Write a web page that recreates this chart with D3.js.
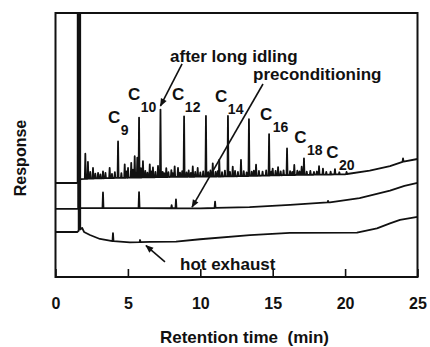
<!DOCTYPE html>
<html><head><meta charset="utf-8">
<script src="https://cdn.jsdelivr.net/npm/d3@7"></script>
<style>body{margin:0;background:#fff}svg{display:block}</style>
</head><body><svg id="c" width="430" height="347"></svg>
<script>
// ---------- data (retention time in min, response in arbitrary units 0-100) ----------
const xTicks = [0, 5, 10, 15, 20, 25];
const xTitle = "Retention time  (min)";
const yTitle = "Response";

// "after long idling" trace
const idleBaseT = [0, 1.5, 1.75, 2.5, 4, 8, 12, 16, 20, 21.7, 23.1, 24.0, 25];
const idleBaseV = [35.6, 35.6, 37.1, 37.3, 37.5, 37.9, 38.1, 38.6, 38.9, 40.3, 42.0, 43.7, 44.7];
const idleSpike = [1.53, 1.65];
const alkaneT = [4.32, 5.77, 7.25, 8.88, 10.39, 11.91, 13.36, 14.75, 15.99, 17.16, 18.2, 19.3];
const alkaneH = [13.8, 22.7, 25.6, 22.9, 23.0, 22.9, 21.5, 15.7, 10.1, 6.25, 3.2, 2.0];
const idleMinorT = [2.06, 2.24, 2.59, 2.94, 3.28, 3.74, 4.78, 5.01, 5.23, 5.47, 5.65, 6.04, 6.51, 6.73, 7.08, 7.65, 8.23, 8.46, 9.48, 9.82, 10.86, 11.31, 12.24, 12.81, 13.85, 15.0, 15.37, 16.49, 17.0, 18.47, 24.0,
  2.4, 2.75, 3.1, 3.45, 3.9, 4.1, 4.55, 4.9, 5.35, 5.9, 6.2, 6.35, 6.62, 6.9, 7.4, 7.5, 7.8, 8.0, 8.1, 8.6, 8.75, 9.05, 9.2, 9.35, 9.65, 10.0, 10.2, 10.55, 10.7, 11.05, 11.2, 11.5, 11.7, 12.05, 12.4, 12.6, 13.0, 13.2, 13.55, 13.7, 14.05, 14.3, 14.55, 14.9, 15.2, 15.55, 15.75, 16.2, 16.35, 16.7, 16.85, 17.35, 17.6, 17.85, 18.05, 18.7, 19.0, 19.6, 20.1];
const idleMinorH = [9.5, 6.4, 4.0, 2.1, 2.6, 3.9, 5.1, 3.7, 5.6, 8.1, 7.5, 6.2, 4.9, 3.7, 4.3, 3.4, 4.0, 3.4, 3.9, 3.3, 5.0, 6.3, 3.7, 6.2, 4.2, 2.6, 3.1, 3.8, 3.1, 2.3, 1.2,
  2.5, 1.8, 1.5, 2.0, 1.6, 2.2, 1.8, 2.4, 3.0, 3.5, 2.5, 1.8, 2.2, 2.0, 2.0, 1.5, 1.8, 2.6, 1.4, 1.6, 2.2, 1.7, 2.4, 1.5, 1.8, 1.6, 2.0, 1.7, 2.3, 1.8, 2.0, 1.6, 2.2, 1.7, 2.0, 1.6, 1.9, 1.4, 1.6, 2.0, 1.8, 1.5, 2.0, 1.4, 1.7, 1.5, 1.8, 1.5, 1.2, 1.6, 1.3, 1.2, 1.5, 1.1, 1.2, 1.0, 1.1, 0.8, 0.8];

// "preconditioning" trace
const precBaseT = [0, 1.5, 1.78, 5, 10, 13.4, 16.2, 18.95, 21.0, 23.1, 24.1, 25];
const precBaseV = [25.8, 25.8, 26.1, 26.1, 26.0, 26.5, 27.3, 28.3, 29.9, 32.7, 34.5, 35.7];
const precSpike = [1.57, 1.69];
const precPeakT = [3.28, 5.77, 8.02, 8.32, 11.02, 18.82];
const precPeakH = [5.9, 6.1, 1.2, 3.4, 2.4, 0.6];

// "hot exhaust" trace
const hotBaseT = [0, 1.5, 1.84, 1.97, 2.38, 3.07, 3.97, 5.14, 6.53, 8.32, 9.98, 13.43, 16.19, 20.82, 22.2, 23.1, 23.79, 25];
const hotBaseV = [17.05, 17.05, 18.6, 17.05, 15.9, 14.4, 13.6, 13.1, 13.3, 13.4, 14.3, 15.9, 16.7, 16.8, 18.45, 20.3, 21.6, 22.8];
const hotSpike = [1.60, 1.71];
const hotPeakT = [3.97, 5.84];
const hotPeakH = [3.0, 0.8];

// annotations
const noteText = ["after long idling", "preconditioning", "hot exhaust"];
const noteT = [7.91, 13.64, 8.6];
const noteV = [81.4, 74.6, 2.65];
const arrowFromT = [8.74, 14.33, 7.56];
const arrowFromV = [80.7, 73.1, 5.7];
const arrowToT = [7.25, 9.43, 6.25];
const arrowToV = [64.8, 26.5, 11.9];
const cNums = ["9", "10", "12", "14", "16", "18", "20"];
const cT = [3.63, 5.01, 8.05, 11.02, 14.12, 16.49, 18.70];
const cV = [58.3, 67.0, 67.0, 66.3, 59.5, 50.8, 45.1];

// ---------- drawing ----------
const svg = d3.select("#c");
const FONT = "'Liberation Sans', Arial, Helvetica, sans-serif";
const L = 55.5, R = 417.5, T = 13, B = 277;
const x = d3.scaleLinear().domain([0, 25]).range([L, R]);
const y = d3.scaleLinear().domain([0, 100]).range([B, T]);

const defs = svg.append("defs");
defs.append("clipPath").attr("id", "plot")
  .append("rect").attr("x", L).attr("y", T).attr("width", R - L).attr("height", B - T);
defs.append("marker").attr("id", "ah").attr("markerUnits", "userSpaceOnUse")
  .attr("viewBox", "0 0 10 10").attr("refX", 9).attr("refY", 5)
  .attr("markerWidth", 9).attr("markerHeight", 8).attr("orient", "auto")
  .append("path").attr("d", "M0,1 L10,5 L0,9 Z").attr("fill", "#111");

function buildTrace(baseT, baseV, peakT, peakH, spike) {
  const base = d3.scaleLinear().domain(baseT).range(baseV);
  const w = 0.035;
  const busy = [];
  peakT.forEach(t => busy.push([t - w * 1.5, t + w * 1.5]));
  busy.push([spike[0] - 0.02, spike[1] + 0.02]);
  let pts = [];
  baseT.forEach((t, i) => {
    if (!busy.some(b => t > b[0] && t < b[1])) pts.push([t, baseV[i]]);
  });
  peakT.forEach((t, i) => {
    pts.push([t - w, base(t - w)], [t, base(t) + peakH[i]], [t + w, base(t + w)]);
  });
  pts.push([spike[0], base(spike[0])], [spike[0] + 0.004, 140], [spike[1] - 0.004, 140], [spike[1], base(spike[1])]);
  pts.sort((a, b) => a[0] - b[0]);
  return pts;
}

const line = d3.line().x(d => x(d[0])).y(d => y(d[1]));
const gTr = svg.append("g").attr("clip-path", "url(#plot)");
const traces = [
  buildTrace(idleBaseT, idleBaseV, alkaneT.concat(idleMinorT), alkaneH.concat(idleMinorH), idleSpike),
  buildTrace(precBaseT, precBaseV, precPeakT, precPeakH, precSpike),
  buildTrace(hotBaseT, hotBaseV, hotPeakT, hotPeakH, hotSpike)
];
gTr.selectAll("path").data(traces).join("path")
  .attr("d", line).attr("fill", "none").attr("stroke", "#111")
  .attr("stroke-width", 1.8).attr("stroke-linejoin", "round");

// frame
svg.append("rect").attr("x", L).attr("y", T).attr("width", R - L).attr("height", B - T)
  .attr("fill", "none").attr("stroke", "#111").attr("stroke-width", 2);

// x axis
const ax = svg.append("g").attr("transform", `translate(0,${B})`)
  .call(d3.axisBottom(x).tickValues(xTicks).tickFormat(d3.format("d"))
    .tickSizeInner(-8).tickSizeOuter(0).tickPadding(21));
ax.select(".domain").remove();
ax.selectAll(".tick line").attr("stroke", "#111").attr("stroke-width", 1.6);
ax.selectAll(".tick text").attr("font-family", FONT).attr("font-size", 16)
  .attr("font-weight", "bold").attr("fill", "#111");

svg.append("text").attr("x", (L + R) / 2 + 8).attr("y", 343).attr("text-anchor", "middle")
  .style("white-space", "pre")
  .attr("font-family", FONT).attr("font-size", 17).attr("font-weight", "bold").attr("fill", "#111")
  .text(xTitle);
svg.append("text").attr("transform", "translate(26,158) rotate(-90)").attr("text-anchor", "middle")
  .attr("font-family", FONT).attr("font-size", 16).attr("font-weight", "bold").attr("fill", "#111")
  .text(yTitle);

// annotations
noteText.forEach((s, i) => {
  svg.append("text").attr("x", x(noteT[i])).attr("y", y(noteV[i]))
    .attr("font-family", FONT).attr("font-size", 17).attr("font-weight", "bold").attr("fill", "#111")
    .text(s);
  svg.append("line").attr("x1", x(arrowFromT[i])).attr("y1", y(arrowFromV[i]))
    .attr("x2", x(arrowToT[i])).attr("y2", y(arrowToV[i]))
    .attr("stroke", "#111").attr("stroke-width", 1.6).attr("marker-end", "url(#ah)");
});
cNums.forEach((n, i) => {
  const t = svg.append("text").attr("x", x(cT[i])).attr("y", y(cV[i]))
    .attr("font-family", FONT).attr("font-weight", "bold").attr("fill", "#111");
  t.append("tspan").attr("font-size", 17).text("C");
  t.append("tspan").attr("font-size", 14).attr("dx", 0.5).attr("dy", 12).text(n);
});
</script>
</body></html>
